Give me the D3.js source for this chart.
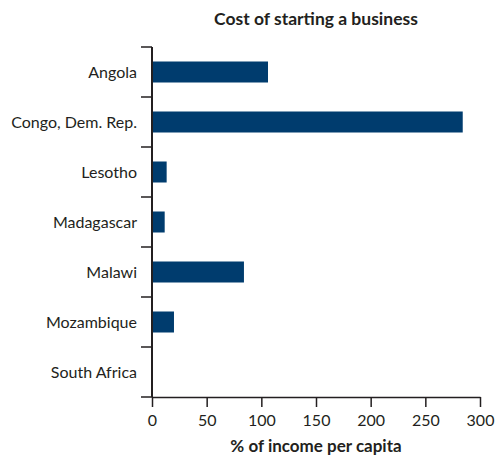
<!DOCTYPE html>
<html>
<head>
<meta charset="utf-8">
<script src="https://cdn.jsdelivr.net/npm/d3@7/dist/d3.min.js"></script>
<style>
  body { margin: 0; background: #fff; }
  #chart { width: 495px; height: 465px; }
  text { font-family: Lato, "Open Sans", sans-serif; fill: #231f20; }
</style>
</head>
<body>
<div id="chart"></div>
<script>
var countries = ['Angola', 'Congo, Dem. Rep.', 'Lesotho', 'Madagascar', 'Malawi', 'Mozambique', 'South Africa'];
var costs = [106.1, 284.2, 13.4, 11.6, 84.1, 20.1, 0];
var xTicks = [0, 50, 100, 150, 200, 250, 300];
var title = 'Cost of starting a business';
var xTitle = '% of income per capita';

var svgWidth = 495, svgHeight = 465;
var margin = {top: 47, right: 15, bottom: 68, left: 152};
var w = svgWidth - margin.left - margin.right;
var h = svgHeight - margin.top - margin.bottom;

var svg = d3.select('#chart').append('svg')
    .attr('width', svgWidth)
    .attr('height', svgHeight);

var g = svg.append('g')
    .attr('transform', 'translate(' + margin.left + ',' + margin.top + ')');

var y = d3.scaleBand()
    .domain(countries)
    .range([0, h])
    .paddingInner(0.58)
    .paddingOuter(0.29);

var x = d3.scaleLinear()
    .domain([0, 300])
    .range([0, w]);

// bars
g.selectAll('rect.bar')
    .data(costs)
    .enter()
    .append('rect')
    .attr('class', 'bar')
    .attr('x', 1)
    .attr('y', function (d, i) { return y(countries[i]); })
    .attr('width', function (d) { return Math.max(0, x(d) - 1); })
    .attr('height', y.bandwidth())
    .attr('fill', '#003c6e');

// y axis: ticks sit on the category boundaries
var gy = g.append('g').attr('class', 'yaxis');
var bounds = d3.range(countries.length + 1).map(function (i) { return i * h / countries.length; });
gy.selectAll('line.tick')
    .data(bounds)
    .enter()
    .append('line')
    .attr('x1', -11).attr('x2', 0)
    .attr('y1', function (d) { return d; })
    .attr('y2', function (d) { return d; })
    .attr('stroke', '#231f20')
    .attr('stroke-width', 1.5);
gy.append('line')
    .attr('x1', 0).attr('x2', 0)
    .attr('y1', 0).attr('y2', h)
    .attr('stroke', '#231f20')
    .attr('stroke-width', 2);
gy.selectAll('text')
    .data(countries)
    .enter()
    .append('text')
    .attr('x', -15)
    .attr('y', function (d) { return y(d) + y.bandwidth() / 2; })
    .attr('dy', '0.35em')
    .attr('text-anchor', 'end')
    .style('font-size', '16px')
    .text(function (d) { return d; });

// x axis
var gx = g.append('g')
    .attr('transform', 'translate(0,' + h + ')');
var xAxis = d3.axisBottom(x)
    .tickValues(xTicks)
    .tickSize(10)
    .tickPadding(8)
    .tickSizeOuter(0);
gx.call(xAxis);
gx.select('.domain').attr('stroke', '#231f20').attr('stroke-width', 1.5);
gx.selectAll('.tick line').attr('stroke', '#231f20').attr('stroke-width', 1.5);
gx.selectAll('.tick text')
    .style('font-family', 'Lato, "Open Sans", sans-serif')
    .style('font-size', '16px')
    .attr('fill', '#231f20');

// titles
g.append('text')
    .attr('x', w / 2)
    .attr('y', h + 55)
    .attr('text-anchor', 'middle')
    .style('font-size', '17px')
    .style('font-weight', 'bold')
    .text(xTitle);

g.append('text')
    .attr('x', w / 2)
    .attr('y', -22)
    .attr('text-anchor', 'middle')
    .style('font-size', '17.5px')
    .style('font-weight', 'bold')
    .text(title);
</script>
</body>
</html>
